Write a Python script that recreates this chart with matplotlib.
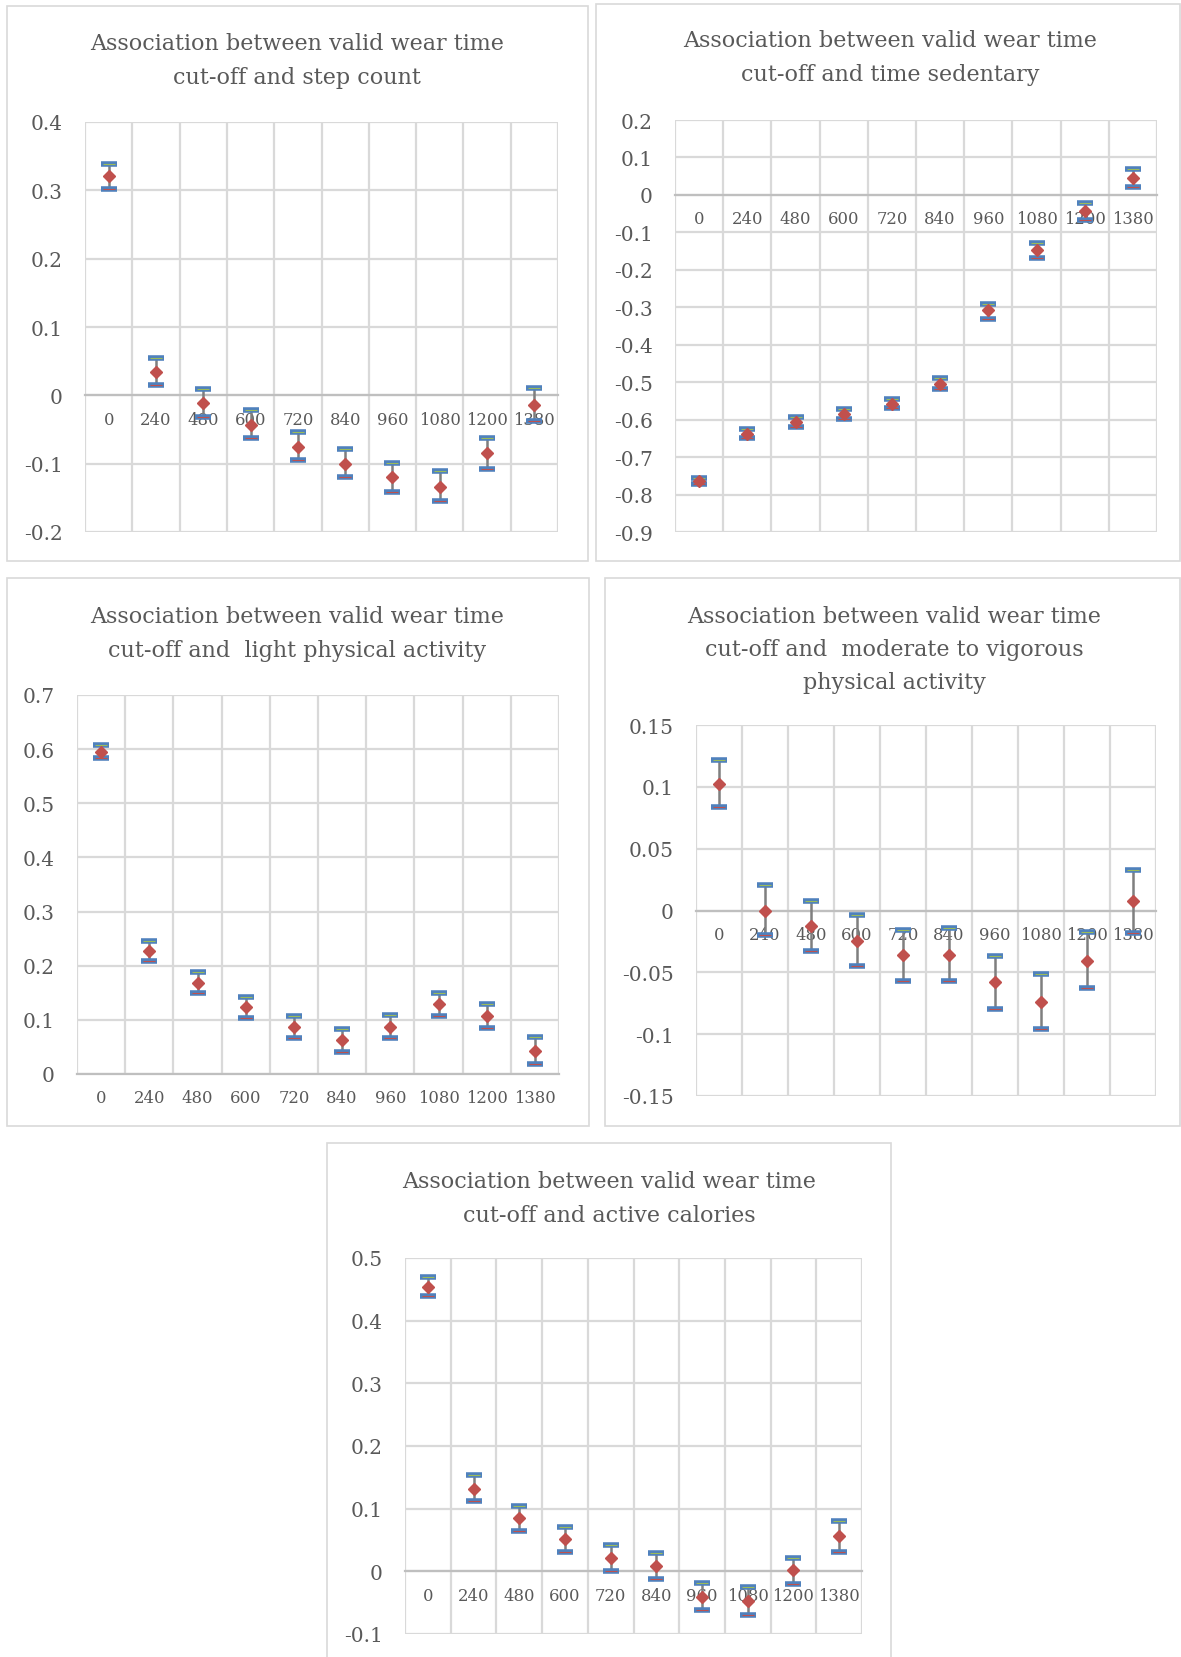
import matplotlib
matplotlib.use("Agg")
import matplotlib.pyplot as plt
from matplotlib.patches import Rectangle

W, H = 1181, 1658

cutoffs = ["0", "240", "480", "600", "720", "840", "960", "1080", "1200", "1380"]

# step count
step_mean = [0.321, 0.034, -0.011, -0.043, -0.075, -0.100, -0.120, -0.134, -0.085, -0.014]
step_low = [0.302, 0.015, -0.032, -0.063, -0.095, -0.120, -0.142, -0.155, -0.108, -0.037]
step_high = [0.338, 0.054, 0.009, -0.022, -0.054, -0.079, -0.099, -0.111, -0.062, 0.011]
step_ticks = [-0.2, -0.1, 0, 0.1, 0.2, 0.3, 0.4]

# time sedentary
sed_mean = [-0.764, -0.638, -0.606, -0.585, -0.557, -0.504, -0.308, -0.148, -0.044, 0.045]
sed_low = [-0.771, -0.649, -0.619, -0.597, -0.570, -0.518, -0.330, -0.169, -0.066, 0.021]
sed_high = [-0.756, -0.625, -0.592, -0.571, -0.545, -0.488, -0.291, -0.129, -0.022, 0.070]
sed_ticks = [-0.9, -0.8, -0.7, -0.6, -0.5, -0.4, -0.3, -0.2, -0.1, 0, 0.1, 0.2]

# light physical activity
lpa_mean = [0.595, 0.227, 0.168, 0.123, 0.087, 0.062, 0.087, 0.130, 0.108, 0.042]
lpa_low = [0.583, 0.208, 0.150, 0.103, 0.066, 0.041, 0.066, 0.108, 0.085, 0.018]
lpa_high = [0.607, 0.246, 0.189, 0.143, 0.107, 0.084, 0.109, 0.150, 0.130, 0.068]
lpa_ticks = [0, 0.1, 0.2, 0.3, 0.4, 0.5, 0.6, 0.7]

# moderate to vigorous physical activity
mvpa_mean = [0.1026, 0.0, -0.0122, -0.0248, -0.0357, -0.0357, -0.0579, -0.0739, -0.0409, 0.0073]
mvpa_low = [0.0837, -0.0197, -0.0326, -0.0447, -0.0567, -0.0567, -0.0797, -0.0961, -0.0627, -0.018]
mvpa_high = [0.1219, 0.0205, 0.0076, -0.0036, -0.0154, -0.0145, -0.0366, -0.0516, -0.0177, 0.0326]
mvpa_ticks = [-0.15, -0.1, -0.05, 0, 0.05, 0.1, 0.15]

# active calories
cal_mean = [0.454, 0.132, 0.085, 0.051, 0.022, 0.009, -0.041, -0.048, 0.002, 0.056]
cal_low = [0.439, 0.112, 0.065, 0.031, 0.0005, -0.012, -0.061, -0.069, -0.021, 0.031]
cal_high = [0.469, 0.153, 0.105, 0.071, 0.042, 0.030, -0.018, -0.025, 0.021, 0.081]
cal_ticks = [-0.1, 0, 0.1, 0.2, 0.3, 0.4, 0.5]

TXT = "#595959"
GRID = "#d9d9d9"
RED = "#c0504d"
BLUE = "#4f81bd"
FONT = "DejaVu Serif"

fig = plt.figure(figsize=(W / 100, H / 100), dpi=100)


def px_rect(x0, y0, x1, y1):
    return [x0 / W, 1 - y1 / H, (x1 - x0) / W, (y1 - y0) / H]


def panel(frame, area, title, title_xy, ticks, mean, low, high):
    fx0, fy0, fx1, fy1 = frame
    fig.patches.append(Rectangle((fx0 / W, 1 - fy1 / H), (fx1 - fx0) / W, (fy1 - fy0) / H,
                                 transform=fig.transFigure, fill=False,
                                 edgecolor=GRID, linewidth=1.2))
    fig.text(title_xy[0] / W, 1 - title_xy[1] / H, title, ha="center", va="center",
             fontsize=16, color=TXT, family=FONT, linespacing=1.65)

    ax = fig.add_axes(px_rect(*area))
    x = list(range(len(cutoffs)))
    ax.set_xlim(-0.5, len(cutoffs) - 0.5)
    ax.set_ylim(ticks[0], ticks[-1])
    ax.set_yticks(ticks)
    ax.set_yticklabels([f"{t:g}" for t in ticks])
    ax.set_xticks(x)
    ax.set_xticklabels(cutoffs)
    ax.set_xticks([i - 0.5 for i in range(len(cutoffs) + 1)], minor=True)
    ax.grid(True, which="minor", axis="x", color=GRID, linewidth=1.6)
    ax.grid(True, which="major", axis="y", color=GRID, linewidth=1.6)
    ax.set_axisbelow(True)
    for s in ["top", "left", "right"]:
        ax.spines[s].set_visible(False)
    ax.spines["bottom"].set_position(("data", 0))
    ax.spines["bottom"].set_color("#bfbfbf")
    ax.spines["bottom"].set_linewidth(1.6)
    ax.tick_params(axis="both", which="both", length=0)
    ax.tick_params(axis="x", labelsize=11.8, labelcolor=TXT, pad=11)
    ax.tick_params(axis="y", labelsize=14.5, labelcolor=TXT, pad=16)
    for lab in ax.get_xticklabels() + ax.get_yticklabels():
        lab.set_family(FONT)

    yerr = [[m - l for m, l in zip(mean, low)], [h - m for m, h in zip(mean, high)]]
    ax.errorbar(x, mean, yerr=yerr, fmt="none", ecolor="#7f7f7f", elinewidth=1.8,
                capsize=0, zorder=3)
    ax.plot(x, high, ls="none", marker="_", ms=11.5, mew=4, color=BLUE, zorder=4)
    ax.plot(x, high, ls="none", marker="_", ms=8, mew=0.8, color="#9bbb59", zorder=5)
    ax.plot(x, low, ls="none", marker="_", ms=11.5, mew=4, color=BLUE, zorder=4)
    ax.plot(x, low, ls="none", marker="_", ms=8, mew=0.8, color=RED, zorder=5)
    ax.plot(x, mean, ls="none", marker="D", ms=6, color=RED, zorder=6)
    return ax


panel((7, 7, 588, 562), (85, 123, 558, 533),
      "Association between valid wear time\ncut-off and step count", (297, 61),
      step_ticks, step_mean, step_low, step_high)
panel((596, 5, 1180, 562), (675, 121, 1157, 533),
      "Association between valid wear time\ncut-off and time sedentary", (890, 58),
      sed_ticks, sed_mean, sed_low, sed_high)
panel((7, 579, 589, 1127), (77, 696, 559, 1075),
      "Association between valid wear time\ncut-off and  light physical activity", (297, 634),
      lpa_ticks, lpa_mean, lpa_low, lpa_high)
panel((605, 579, 1180, 1127), (696, 726, 1156, 1097),
      "Association between valid wear time\ncut-off and  moderate to vigorous\nphysical activity",
      (894, 650), mvpa_ticks, mvpa_mean, mvpa_low, mvpa_high)
panel((327, 1144, 891, 1670), (405, 1259, 862, 1635),
      "Association between valid wear time\ncut-off and active calories", (609, 1199),
      cal_ticks, cal_mean, cal_low, cal_high)

fig.savefig("out.png", dpi=100, facecolor="white")
